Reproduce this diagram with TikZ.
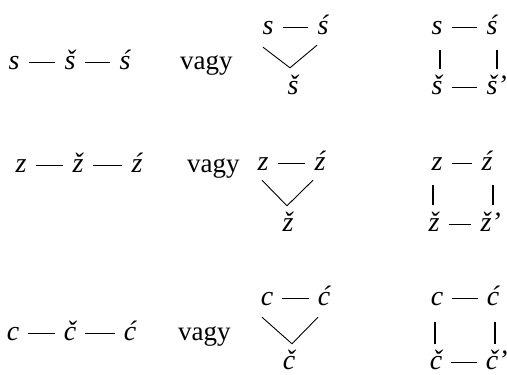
\documentclass[tikz,border=0pt]{standalone}
\usepackage{fontspec}
\setmainfont{Liberation Serif}
\usetikzlibrary{positioning}
\tikzset{
  betu/.style={font=\fontsize{28}{33}\selectfont\itshape, text height=13pt,
               text depth=0pt, inner xsep=0pt, inner ysep=3pt, anchor=base},
  szo/.style={font=\fontsize{27}{32}\selectfont, anchor=base west, inner sep=0pt},
  kotojel/.style={line width=1.1pt, shorten <=9pt, shorten >=9pt},
  ag/.style={line width=0.9pt},
}

\begin{document}
\begin{tikzpicture}[x=1pt, y=-1pt]
  \useasboundingbox (0,0) rectangle (507,375);
  % s sor
  \node[betu] (s1) at (14,69) {s};
  \node[betu] (s2) at (70,69) {š};
  \node[betu] (s3) at (125,69) {ś};
  \draw[kotojel] (s1) -- (s2);
  \draw[kotojel] (s2) -- (s3);
  \node[szo] (vagy1) at (180,69) {vagy};
  % haromszog
  \node[betu] (ts1) at (268,34) {s};
  \node[betu] (ts2) at (323,34) {ś};
  \node[betu] (ts3) at (293,94) {š};
  \draw[kotojel] (ts1) -- (ts2);
  \coordinate (vs) at ([shift={(-3,-10)}]ts3.north);
  \draw[ag] ([shift={(-5,10)}]ts1.south) -- (vs) -- ([shift={(-6,8)}]ts2.south);
  % negyzet
  \node[betu] (qs1) at (437,34) {s};
  \node[betu] (qs2) at (492,34) {ś};
  \node[betu] (qs3) at (437,94) {š};
  \node[betu] (qs4) at (492,94) {š\rlap{’}};
  \draw[kotojel] (qs1) -- (qs2);
  \draw[kotojel] (qs3) -- (qs4);
  \draw[kotojel, shorten <=13pt, shorten >=9pt] ([xshift=3pt]qs1.south) -- ([xshift=3pt]qs3.north);
  \draw[kotojel, shorten <=13pt, shorten >=9pt] ([xshift=5pt]qs2.south) -- ([xshift=5pt]qs4.north);

  % z sor
  \node[betu] (z1) at (21,172) {z};
  \node[betu] (z2) at (78,172) {ž};
  \node[betu] (z3) at (137,172) {ź};
  \draw[kotojel] (z1) -- (z2);
  \draw[kotojel] (z2) -- (z3);
  \node[szo] (vagy2) at (187,172) {vagy};
  % haromszog
  \node[betu] (tz1) at (263,170) {z};
  \node[betu] (tz2) at (320,170) {ź};
  \node[betu] (tz3) at (288,231) {ž};
  \draw[kotojel] (tz1) -- (tz2);
  \coordinate (vz) at ([shift={(-1,-9)}]tz3.north);
  \draw[ag] ([shift={(-1,7)}]tz1.south) -- (vz) -- ([shift={(-7,7)}]tz2.south);
  % negyzet
  \node[betu] (qz1) at (437,170) {z};
  \node[betu] (qz2) at (487,170) {ź};
  \node[betu] (qz3) at (434,231) {ž};
  \node[betu] (qz4) at (486,231) {ž\rlap{’}};
  \draw[kotojel] (qz1) -- (qz2);
  \draw[kotojel] (qz3) -- (qz4);
  \draw[kotojel, shorten <=12pt, shorten >=10pt] ([xshift=-4pt]qz1.south) -- ([xshift=-1pt]qz3.north);
  \draw[kotojel, shorten <=12pt, shorten >=10pt] ([xshift=6pt]qz2.south) -- ([xshift=7pt]qz4.north);

  % c sor
  \node[betu] (c1) at (13,340) {c};
  \node[betu] (c2) at (70,340) {č};
  \node[betu] (c3) at (130,340) {ć};
  \draw[kotojel] (c1) -- (c2);
  \draw[kotojel] (c2) -- (c3);
  \node[szo] (vagy3) at (178,340) {vagy};
  % haromszog
  \node[betu] (tc1) at (267,305) {c};
  \node[betu] (tc2) at (324,305) {ć};
  \node[betu] (tc3) at (289,369) {č};
  \draw[kotojel] (tc1) -- (tc2);
  \coordinate (vc) at ([shift={(3,-9)}]tc3.north);
  \draw[ag] ([shift={(-5,9)}]tc1.south) -- (vc) -- ([shift={(-6,9)}]tc2.south);
  % negyzet
  \node[betu] (qc1) at (437,305) {c};
  \node[betu] (qc2) at (493,305) {ć};
  \node[betu] (qc3) at (436,369) {č};
  \node[betu] (qc4) at (492,369) {č\rlap{’}};
  \draw[kotojel] (qc1) -- (qc2);
  \draw[kotojel] (qc3) -- (qc4);
  \draw[kotojel, shorten <=14pt, shorten >=9pt] ([xshift=-2pt]qc1.south) -- ([xshift=-1pt]qc3.north);
  \draw[kotojel, shorten <=14pt, shorten >=9pt] ([xshift=2pt]qc2.south) -- ([xshift=3pt]qc4.north);
\end{tikzpicture}
\end{document}
